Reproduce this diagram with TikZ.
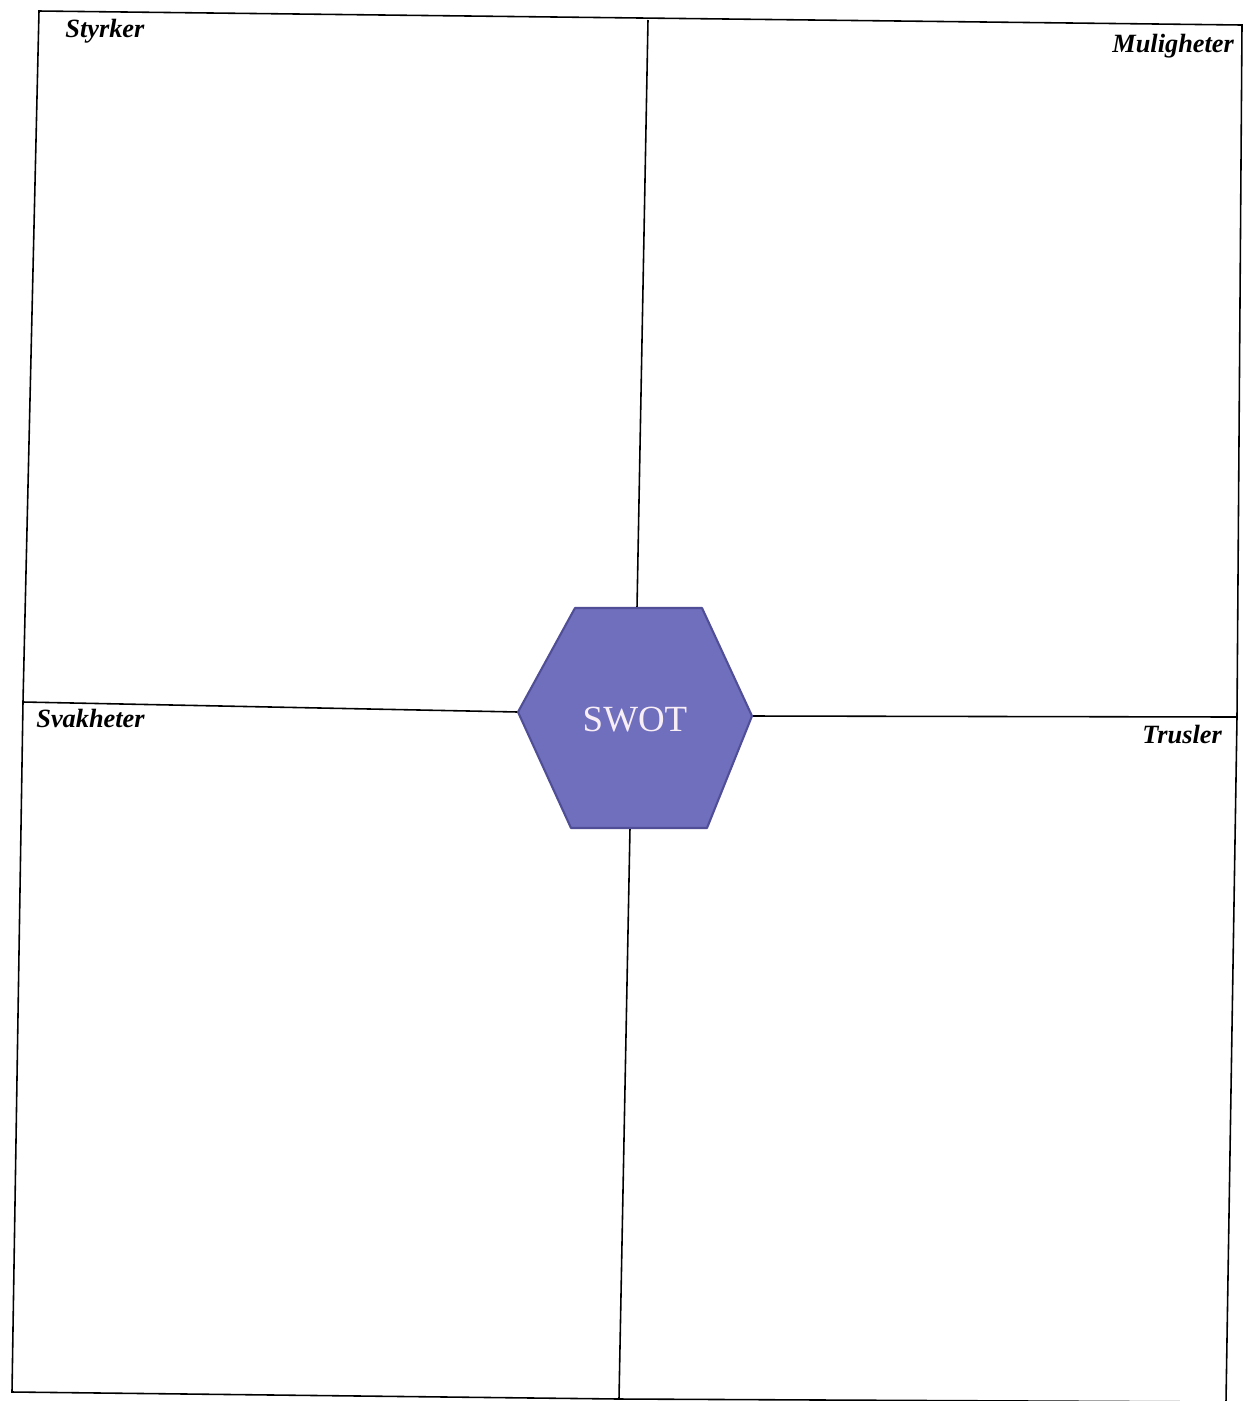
\documentclass[tikz,border=0pt]{standalone}
\usepackage{fontspec}
\setmainfont{Liberation Serif}
\usepackage{tikz}
\definecolor{hexfill}{RGB}{112,111,190}
\definecolor{hexedge}{RGB}{80,78,150}
\definecolor{hextext}{RGB}{248,238,246}

\begin{document}
\begin{tikzpicture}[
    x=0.02cm, y=-0.02cm,
    frame/.style={draw=black, line width=0.9pt},
    heading/.style={anchor=base west, inner sep=0pt, font=\fontsize{15}{18}\selectfont\bfseries\itshape},
    hexagon/.style={fill=hexfill, draw=hexedge, line width=1.2pt, line join=round},
    title/.style={text=hextext, inner sep=0pt, font=\fontsize{21}{25}\selectfont}
  ]
    \useasboundingbox[fill=white] (0,0) rectangle (1242,1401);
    % frame corners
    \coordinate (tl) at (39,11);
    \coordinate (tm) at (648,20);
    \coordinate (tr) at (1242,25);
    \coordinate (ml) at (23,702);
    \coordinate (mr) at (1237,717);
    \coordinate (bl) at (12,1392);
    \coordinate (bm) at (619,1399);
    \coordinate (br) at (1226,1402);
    % hexagon corners
    \coordinate (h1) at (575,608);
    \coordinate (h2) at (702,608);
    \coordinate (h3) at (752,716);
    \coordinate (h4) at (707,828);
    \coordinate (h5) at (571,828);
    \coordinate (h6) at (518,712);
    \coordinate (ht) at (637,608);
    \coordinate (hb) at (630,828);
    \draw[frame] (tl) -- (tr) -- (mr) -- (br) -- (bm) -- (bl) -- (ml) -- cycle;
    \draw[frame] (ml) -- (h6);
    \draw[frame] (h3) -- (mr);
    \draw[frame] (tm) -- (ht);
    \draw[frame] (hb) -- (bm);
    \draw[hexagon] (h1) -- (h2) -- (h3) -- (h4) -- (h5) -- (h6) -- cycle;
    \node[title] (swot) at (635,720) {SWOT};
    \node[heading] (styrker) at (65,37) {Styrker};
    \node[heading] (muligheter) at (1112,52) {Muligheter};
    \node[heading] (svakheter) at (36,727) {Svakheter};
    \node[heading] (trusler) at (1142,743) {Trusler};
  \end{tikzpicture}
\end{document}
